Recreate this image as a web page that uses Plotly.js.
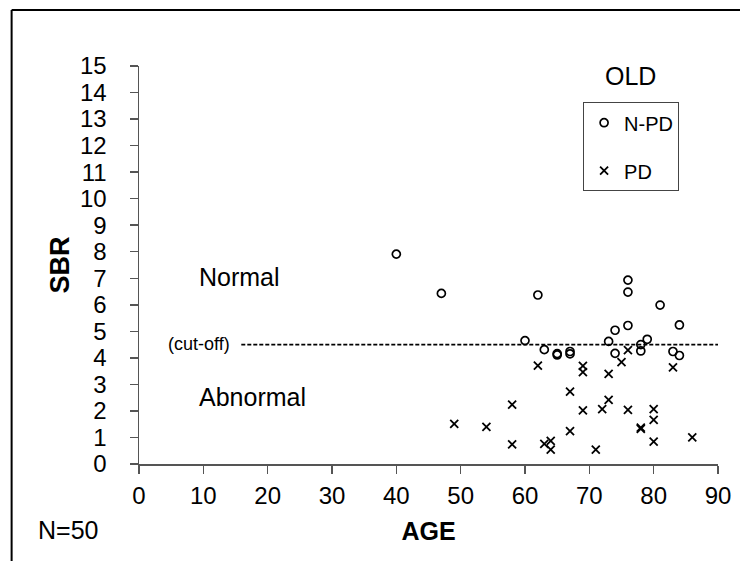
<!DOCTYPE html>
<html>
<head>
<meta charset="utf-8">
<script src="https://cdn.plot.ly/plotly-3.0.1.min.js"></script>
<style>html,body{margin:0;padding:0;background:#fff;}#chart{width:740px;height:561px;}</style>
</head>
<body>
<div id="chart"></div>
<script>
// N-PD (non-Parkinson) subjects
const npdAge = [40, 47, 60, 62, 63, 65, 65, 67, 67, 73, 74, 74, 76, 76, 76, 78, 78, 79, 81, 83, 84, 84];
const npdSbr = [7.91, 6.43, 4.65, 6.37, 4.31, 4.16, 4.11, 4.24, 4.15, 4.62, 5.04, 4.17, 6.93, 6.48, 5.22, 4.5, 4.26, 4.7, 5.99, 4.24, 5.24, 4.09];
// PD subjects
const pdAge = [49, 54, 58, 58, 62, 63, 64, 64, 67, 67, 69, 69, 69, 71, 72, 73, 73, 75, 76, 76, 78, 78, 80, 80, 80, 83, 86];
const pdSbr = [1.51, 1.4, 2.24, 0.74, 3.71, 0.76, 0.87, 0.54, 2.73, 1.24, 3.7, 3.46, 2.02, 0.54, 2.07, 3.4, 2.42, 3.84, 4.29, 2.04, 1.37, 1.32, 2.07, 1.66, 0.84, 3.64, 1.0];
// cut-off line
const cutoffAge = [15.9, 90];
const cutoffSbr = [4.5, 4.5];
const xTicks = [0, 10, 20, 30, 40, 50, 60, 70, 80, 90];
const yTicks = [0, 1, 2, 3, 4, 5, 6, 7, 8, 9, 10, 11, 12, 13, 14, 15];

const FONT = '"Liberation Sans", Arial, Helvetica, sans-serif';

const traces = [
  {
    x: cutoffAge, y: cutoffSbr, type: 'scatter', mode: 'lines',
    line: {color: '#000', width: 1.6, dash: '4px,2px'},
    showlegend: false, hoverinfo: 'skip'
  },
  {
    x: npdAge, y: npdSbr, type: 'scatter', mode: 'markers', name: 'N-PD',
    legendgroup: 'a',
    marker: {symbol: 'circle-open', size: 8, color: '#000', line: {width: 1.7, color: '#000'}}
  },
  {
    x: pdAge, y: pdSbr, type: 'scatter', mode: 'markers', name: 'PD',
    legendgroup: 'b',
    marker: {symbol: 'x-thin-open', size: 8, color: '#000', line: {width: 1.8, color: '#000'}}
  }
];

const layout = {
  width: 740, height: 561,
  margin: {l: 139, r: 22, t: 66, b: 97},
  paper_bgcolor: '#fff', plot_bgcolor: '#fff',
  font: {family: FONT, color: '#000', size: 24},
  showlegend: true,
  legend: {
    x: 0.767, y: 0.909, xanchor: 'left', yanchor: 'top',
    bordercolor: '#444', borderwidth: 1, bgcolor: '#fff',
    font: {family: FONT, size: 20, color: '#000'},
    traceorder: 'grouped', tracegroupgap: 19,
    itemwidth: 30
  },
  xaxis: {
    range: [0, 90], tickvals: xTicks, ticktext: xTicks.map(String),
    showgrid: false, zeroline: false,
    showline: true, linecolor: '#555', linewidth: 1.5,
    ticks: 'outside', ticklen: 8, tickwidth: 1.5, tickcolor: '#555',
    tickfont: {family: FONT, size: 24, color: '#000'},
    ticklabelstandoff: 2,
    title: {text: '<b>AGE</b>', font: {family: FONT, size: 25, color: '#000'}, standoff: 14}
  },
  yaxis: {
    range: [0, 15], tickvals: yTicks, ticktext: yTicks.map(String),
    showgrid: false, zeroline: false,
    showline: true, linecolor: '#555', linewidth: 1.5,
    ticks: 'outside', ticklen: 8, tickwidth: 1.5, tickcolor: '#555',
    tickfont: {family: FONT, size: 24, color: '#000'},
    ticklabelstandoff: 18,
    title: {text: '<b>SBR</b>', font: {family: FONT, size: 27, color: '#000'}, standoff: 2}
  },
  shapes: [
    // outer frame (left and top edges)
    {type: 'line', xref: 'paper', yref: 'paper', x0: -0.22, x1: -0.22, y0: -0.3, y1: 1.141, line: {color: '#000', width: 2}},
    {type: 'line', xref: 'paper', yref: 'paper', x0: -0.22, x1: 1.1, y0: 1.141, y1: 1.141, line: {color: '#000', width: 2}},
    // x axis line extension to the left
    {type: 'line', xref: 'paper', yref: 'paper', x0: -0.0131, x1: 0, y0: 0, y1: 0, line: {color: '#555', width: 1.5}}
  ],
  annotations: [
    {text: 'Normal', xref: 'x', yref: 'y', x: 15.66, y: 7.06, xanchor: 'center', yanchor: 'middle', showarrow: false, font: {family: FONT, size: 25, color: '#000'}},
    {text: 'Abnormal', xref: 'x', yref: 'y', x: 17.6, y: 2.54, xanchor: 'center', yanchor: 'middle', showarrow: false, font: {family: FONT, size: 25, color: '#000'}},
    {text: '(cut-off)', xref: 'x', yref: 'y', x: 9.28, y: 4.53, xanchor: 'center', yanchor: 'middle', showarrow: false, font: {family: FONT, size: 18, color: '#000'}},
    {text: 'OLD', xref: 'paper', yref: 'paper', x: 0.849, y: 0.974, xanchor: 'center', yanchor: 'middle', showarrow: false, font: {family: FONT, size: 25, color: '#000'}},
    {text: 'N=50', xref: 'paper', yref: 'paper', x: -0.122, y: -0.167, xanchor: 'center', yanchor: 'middle', showarrow: false, font: {family: FONT, size: 25, color: '#000'}}
  ]
};

Plotly.newPlot('chart', traces, layout, {displayModeBar: false, staticPlot: true});
</script>
</body>
</html>
